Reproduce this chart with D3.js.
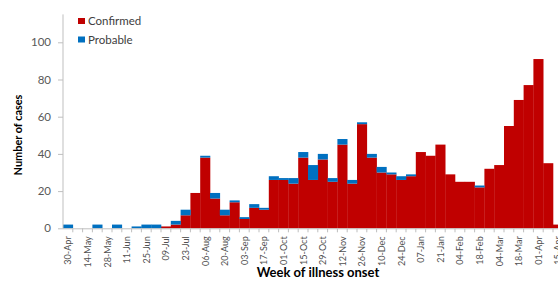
<!DOCTYPE html>
<html><head><meta charset="utf-8">
<script src="https://cdn.jsdelivr.net/npm/d3@7/dist/d3.min.js"></script>
<style>
html,body{margin:0;padding:0;background:#fff;}
svg{display:block;}
text{font-family:Lato,"Open Sans",sans-serif;}
</style></head><body>
<svg id="c" width="558" height="281"></svg>
<script>
const weeks = ["30-Apr","07-May","14-May","21-May","28-May","04-Jun","11-Jun","18-Jun","25-Jun","02-Jul",
"09-Jul","16-Jul","23-Jul","30-Jul","06-Aug","13-Aug","20-Aug","27-Aug","03-Sep","10-Sep",
"17-Sep","24-Sep","01-Oct","08-Oct","15-Oct","22-Oct","29-Oct","05-Nov","12-Nov","19-Nov",
"26-Nov","03-Dec","10-Dec","17-Dec","24-Dec","31-Dec","07-Jan","14-Jan","21-Jan","28-Jan",
"04-Feb","11-Feb","18-Feb","25-Feb","04-Mar","11-Mar","18-Mar","25-Mar","01-Apr","08-Apr","15-Apr"];
const confirmed = [0,0,0,0,0,0,0,0,0,0,
1,2,7,19,38,16,7,14,5,11,
10,26,26,24,38,26,37,25,45,24,
56,38,30,29,26,28,41,39,45,29,
25,25,22,32,34,55,69,77,91,35,2];
const probable = [2,0,0,2,0,2,0,1,2,2,
0,2,3,0,1,3,3,1,1,2,
1,2,1,3,3,8,3,2,3,2,
1,2,3,1,2,1,0,0,0,0,
0,0,1,0,0,0,0,0,0,0,0];
const yTicks = [0,20,40,60,80,100];
const tickLabels = weeks.filter((d,i)=>i%2===0);
const seriesNames = ["Confirmed","Probable"];
const colors = ["#C00000","#0070C0"];

const svg = d3.select("#c");
const x0 = 63, catW = 9.8;
const x = d3.scaleBand().domain(weeks).range([x0, x0 + catW*weeks.length]).padding(0);
const y = d3.scaleLinear().domain([0,115]).range([228.3, 14.4]);
const axisCol = "#bfbfbf";

const rows = weeks.map((w,i)=>({week:w, Confirmed:confirmed[i], Probable:probable[i]}));
const stack = d3.stack().keys(seriesNames)(rows);

svg.append("g").selectAll("g").data(stack).join("g")
  .attr("fill",(d,i)=>colors[i])
  .selectAll("rect").data(d=>d).join("rect")
  .attr("x",d=>x(d.data.week))
  .attr("width",x.bandwidth()+0.3)
  .attr("y",d=>y(d[1]))
  .attr("height",d=>Math.max(0,y(d[0])-y(d[1])));

// y axis
const ya = svg.append("g").attr("transform",`translate(${x0},0)`)
  .call(d3.axisLeft(y).tickValues(yTicks).tickSize(5).tickPadding(7));
ya.select(".domain").attr("stroke",axisCol).attr("d",`M0,${y(115)}V${y(0)}`);
ya.selectAll(".tick line").attr("stroke",axisCol);
ya.selectAll(".tick text").attr("fill","#595959").style("font-size","11.5px").style("font-family","Lato");

// x axis
const xa = svg.append("g").attr("transform",`translate(0,${y(0)})`)
  .call(d3.axisBottom(x).tickValues([]).tickSize(0));
xa.select(".domain").attr("stroke",axisCol).attr("d",`M${x0},0.5H558`);
xa.selectAll(".bt").data(weeks).join("line")
  .attr("x1",(d)=>x(d)+catW).attr("x2",(d)=>x(d)+catW)
  .attr("y1",0).attr("y2",4).attr("stroke",axisCol);
xa.selectAll(".xl").data(tickLabels).join("text")
  .attr("transform",d=>`translate(${x(d)+x.bandwidth()/2+3.4},${8}) rotate(-90) scale(0.88,1)`)
  .attr("text-anchor","end")
  .attr("fill","#505050")
  .style("font-size","10.3px")
  .text(d=>d);

// axis titles
svg.append("text").attr("x",318).attr("y",277).attr("text-anchor","middle")
  .style("font-size","13px").style("font-weight","bold").attr("fill","#000")
  .text("Week of illness onset");
svg.append("text").attr("transform","translate(22,135) rotate(-90) scale(0.95,1)")
  .attr("text-anchor","middle").style("font-size","11.5px").style("font-weight","bold").attr("fill","#000")
  .text("Number of cases");

// legend
const lg = svg.append("g");
seriesNames.forEach((s,i)=>{
  lg.append("rect").attr("x",78).attr("y",18+i*18.5).attr("width",7).attr("height",6).attr("fill",colors[i]);
  lg.append("text").attr("x",88).attr("y",25+i*18.5).style("font-size","11.5px").attr("fill","#404040").text(s);
});
</script>
</body></html>
